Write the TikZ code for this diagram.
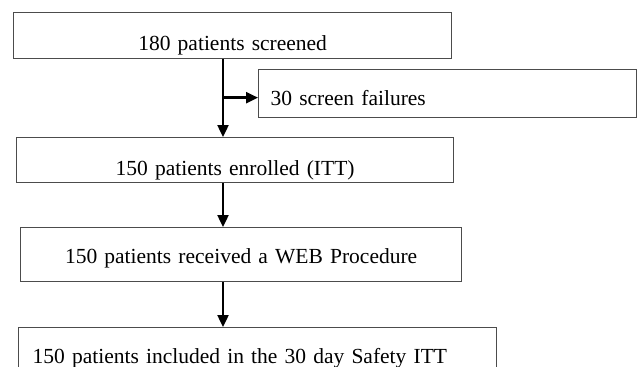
\documentclass[tikz,border=0pt]{standalone}
\usepackage{fontspec}
\setmainfont{Liberation Serif}
\usetikzlibrary{arrows.meta}

\begin{document}
\begin{tikzpicture}[x=1pt,y=1pt,
	every node/.style={font=\fontsize{21.5}{24}\selectfont},
	box/.style={draw=black!70,line width=1.3pt,inner ysep=0pt,anchor=north west},
	mid/.style={box,inner xsep=0pt,align=center},
	side/.style={box,inner xsep=#1,align=left},
	arr/.style={line width=2.4pt,-{Triangle[length=12pt,width=11pt]}}]
\clip (0,0) rectangle (638,-367);
\useasboundingbox (0,0) rectangle (638,-367);

\node[mid,text width=438pt,text height=38pt,text depth=8pt] (screened) at (13,-12) {180 patients screened};
\node[side=12pt,text width=354pt,text height=36pt,text depth=12pt] (failures) at (258,-69) {30 screen failures};
\node[mid,text width=437pt,text height=38pt,text depth=7pt] (enrolled) at (16,-137) {150 patients enrolled (ITT)};
\node[mid,text width=441pt,text height=36pt,text depth=18pt] (web) at (20,-227) {150 patients received a WEB Procedure};
\node[side=14pt,text width=450pt,text height=36pt,text depth=20pt] (safety) at (18,-327) {150 patients included in the 30 day Safety ITT};

\coordinate (trunk) at (223,0);
\coordinate (tap) at ([yshift=-4pt]failures.west);
\foreach \a/\b in {screened/enrolled,enrolled/web,web/safety}
	\draw[arr] (\a.south -| trunk) -- (\b.north -| trunk);
\draw[arr] (trunk |- tap) -- (tap);
\end{tikzpicture}
\end{document}
